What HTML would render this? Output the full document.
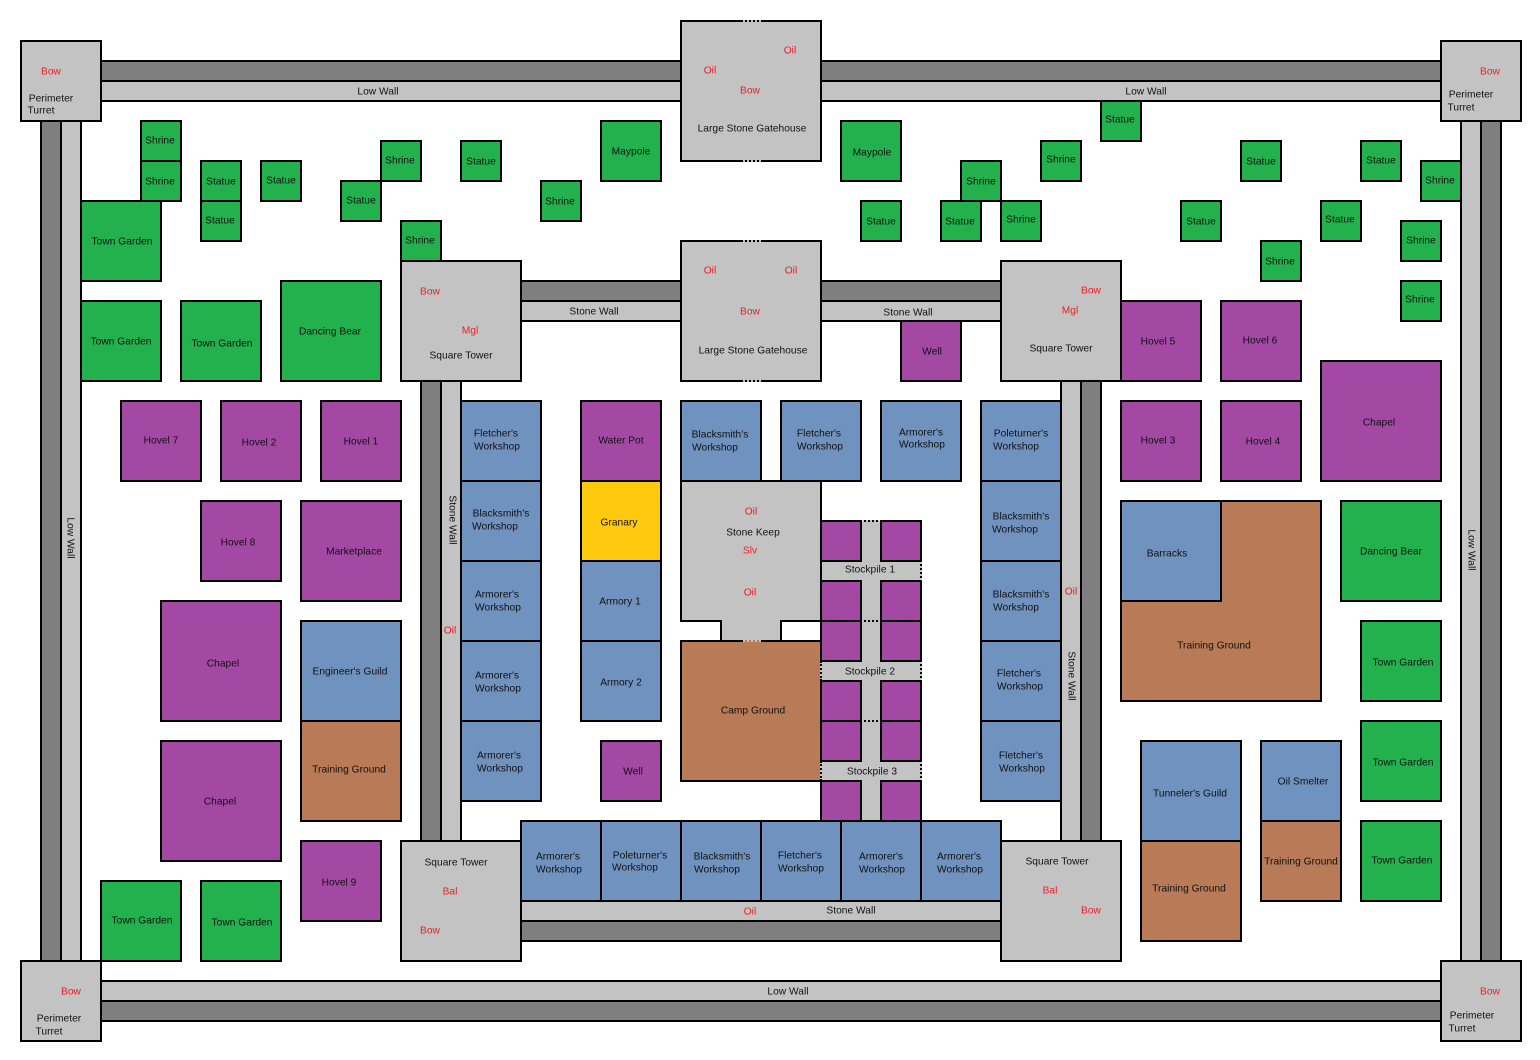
<!DOCTYPE html>
<html><head><meta charset="utf-8"><style>
html,body{margin:0;padding:0;background:#fff}
svg{display:block}
rect,polygon{stroke:#000;stroke-width:2}
.a{fill:#c3c3c3}.d{fill:#7f7f7f}.g{fill:#22b14c}.p{fill:#a349a4}.b{fill:#7092be}.n{fill:#b97a57}.y{fill:#ffc90e}
text{font-family:"Liberation Sans",sans-serif;font-size:10.2px;letter-spacing:.03px;text-anchor:middle;dominant-baseline:central;fill:#111}
.r{fill:#ed1c24}
</style></head><body>
<svg width="1540" height="1060" viewBox="0 0 1540 1060" xmlns="http://www.w3.org/2000/svg">
<g transform="translate(1 1)">
<!-- walls -->
<rect class="d" x="100" y="60" width="580" height="20"/><rect class="a" x="100" y="80" width="580" height="20"/>
<rect class="d" x="820" y="60" width="620" height="20"/><rect class="a" x="820" y="80" width="620" height="20"/>
<rect class="d" x="40" y="120" width="20" height="840"/><rect class="a" x="60" y="120" width="20" height="840"/>
<rect class="a" x="1460" y="120" width="20" height="840"/><rect class="d" x="1480" y="120" width="20" height="840"/>
<rect class="a" x="100" y="980" width="1340" height="20"/><rect class="d" x="100" y="1000" width="1340" height="20"/>
<rect class="d" x="520" y="280" width="160" height="20"/><rect class="a" x="520" y="300" width="160" height="20"/>
<rect class="d" x="820" y="280" width="180" height="20"/><rect class="a" x="820" y="300" width="180" height="20"/>
<rect class="d" x="420" y="380" width="20" height="460"/><rect class="a" x="440" y="380" width="20" height="460"/>
<rect class="a" x="1060" y="380" width="20" height="460"/><rect class="d" x="1080" y="380" width="20" height="460"/>
<rect class="a" x="520" y="900" width="480" height="20"/><rect class="d" x="520" y="920" width="480" height="20"/>
<!-- towers -->
<rect class="a" x="20" y="40" width="80" height="80"/><rect class="a" x="1440" y="40" width="80" height="80"/>
<rect class="a" x="20" y="960" width="80" height="80"/><rect class="a" x="1440" y="960" width="80" height="80"/>
<rect class="a" x="680" y="20" width="140" height="140"/><rect class="a" x="680" y="240" width="140" height="140"/>
<rect class="a" x="400" y="260" width="120" height="120"/><rect class="a" x="1000" y="260" width="120" height="120"/>
<rect class="a" x="400" y="840" width="120" height="120"/><rect class="a" x="1000" y="840" width="120" height="120"/>
<!-- green -->
<rect class="g" x="140" y="120" width="40" height="40"/><rect class="g" x="140" y="160" width="40" height="40"/>
<rect class="g" x="200" y="160" width="40" height="40"/><rect class="g" x="200" y="200" width="40" height="40"/>
<rect class="g" x="260" y="160" width="40" height="40"/><rect class="g" x="380" y="140" width="40" height="40"/>
<rect class="g" x="340" y="180" width="40" height="40"/><rect class="g" x="460" y="140" width="40" height="40"/>
<rect class="g" x="540" y="180" width="40" height="40"/><rect class="g" x="600" y="120" width="60" height="60"/>
<rect class="g" x="840" y="120" width="60" height="60"/><rect class="g" x="400" y="220" width="40" height="40"/>
<rect class="g" x="80" y="200" width="80" height="80"/><rect class="g" x="80" y="300" width="80" height="80"/>
<rect class="g" x="180" y="300" width="80" height="80"/><rect class="g" x="280" y="280" width="100" height="100"/>
<rect class="g" x="860" y="200" width="40" height="40"/><rect class="g" x="940" y="200" width="40" height="40"/>
<rect class="g" x="960" y="160" width="40" height="40"/><rect class="g" x="1000" y="200" width="40" height="40"/>
<rect class="g" x="1040" y="140" width="40" height="40"/><rect class="g" x="1100" y="100" width="40" height="40"/>
<rect class="g" x="1240" y="140" width="40" height="40"/><rect class="g" x="1360" y="140" width="40" height="40"/>
<rect class="g" x="1420" y="160" width="40" height="40"/><rect class="g" x="1180" y="200" width="40" height="40"/>
<rect class="g" x="1320" y="200" width="40" height="40"/><rect class="g" x="1400" y="220" width="40" height="40"/>
<rect class="g" x="1260" y="240" width="40" height="40"/><rect class="g" x="1400" y="280" width="40" height="40"/>
<rect class="g" x="1340" y="500" width="100" height="100"/><rect class="g" x="1360" y="620" width="80" height="80"/>
<rect class="g" x="1360" y="720" width="80" height="80"/><rect class="g" x="1360" y="820" width="80" height="80"/>
<rect class="g" x="100" y="880" width="80" height="80"/><rect class="g" x="200" y="880" width="80" height="80"/>
<!-- purple -->
<rect class="p" x="900" y="320" width="60" height="60"/><rect class="p" x="1120" y="300" width="80" height="80"/>
<rect class="p" x="1220" y="300" width="80" height="80"/><rect class="p" x="1120" y="400" width="80" height="80"/>
<rect class="p" x="1220" y="400" width="80" height="80"/><rect class="p" x="1320" y="360" width="120" height="120"/>
<rect class="p" x="120" y="400" width="80" height="80"/><rect class="p" x="220" y="400" width="80" height="80"/>
<rect class="p" x="320" y="400" width="80" height="80"/><rect class="p" x="200" y="500" width="80" height="80"/>
<rect class="p" x="300" y="500" width="100" height="100"/><rect class="p" x="160" y="600" width="120" height="120"/>
<rect class="p" x="160" y="740" width="120" height="120"/><rect class="p" x="300" y="840" width="80" height="80"/>
<rect class="p" x="580" y="400" width="80" height="80"/><rect class="p" x="600" y="740" width="60" height="60"/>
<!-- stockpile -->
<rect class="a" x="860" y="520" width="20" height="300" style="stroke:none"/>
<rect class="a" x="820" y="560" width="100" height="20" style="stroke:none"/>
<rect class="a" x="820" y="660" width="100" height="20" style="stroke:none"/>
<rect class="a" x="820" y="760" width="100" height="20" style="stroke:none"/>
<rect class="p" x="820" y="520" width="40" height="40"/><rect class="p" x="880" y="520" width="40" height="40"/>
<rect class="p" x="820" y="580" width="40" height="40"/><rect class="p" x="880" y="580" width="40" height="40"/>
<rect class="p" x="820" y="620" width="40" height="40"/><rect class="p" x="880" y="620" width="40" height="40"/>
<rect class="p" x="820" y="680" width="40" height="40"/><rect class="p" x="880" y="680" width="40" height="40"/>
<rect class="p" x="820" y="720" width="40" height="40"/><rect class="p" x="880" y="720" width="40" height="40"/>
<rect class="p" x="820" y="780" width="40" height="40"/><rect class="p" x="880" y="780" width="40" height="40"/>
<!-- blue -->
<rect class="b" x="460" y="400" width="80" height="80"/><rect class="b" x="460" y="480" width="80" height="80"/>
<rect class="b" x="460" y="560" width="80" height="80"/><rect class="b" x="460" y="640" width="80" height="80"/>
<rect class="b" x="460" y="720" width="80" height="80"/>
<rect class="b" x="680" y="400" width="80" height="80"/><rect class="b" x="780" y="400" width="80" height="80"/>
<rect class="b" x="880" y="400" width="80" height="80"/>
<rect class="b" x="980" y="400" width="80" height="80"/><rect class="b" x="980" y="480" width="80" height="80"/>
<rect class="b" x="980" y="560" width="80" height="80"/><rect class="b" x="980" y="640" width="80" height="80"/>
<rect class="b" x="980" y="720" width="80" height="80"/>
<rect class="b" x="580" y="560" width="80" height="80"/><rect class="b" x="580" y="640" width="80" height="80"/>
<rect class="b" x="300" y="620" width="100" height="100"/>
<rect class="b" x="520" y="820" width="80" height="80"/><rect class="b" x="600" y="820" width="80" height="80"/>
<rect class="b" x="680" y="820" width="80" height="80"/><rect class="b" x="760" y="820" width="80" height="80"/>
<rect class="b" x="840" y="820" width="80" height="80"/><rect class="b" x="920" y="820" width="80" height="80"/>
<rect class="b" x="1140" y="740" width="100" height="100"/><rect class="b" x="1260" y="740" width="80" height="80"/>
<rect class="n" x="300" y="720" width="100" height="100"/>
<rect class="n" x="1140" y="840" width="100" height="100"/><rect class="n" x="1260" y="820" width="80" height="80"/>
<polygon class="n" points="1220,500 1320,500 1320,700 1120,700 1120,600 1220,600"/>
<rect class="b" x="1120" y="500" width="100" height="100"/>
<rect class="y" x="580" y="480" width="80" height="80"/>
<polygon class="a" points="680,480 820,480 820,620 780,620 780,640 720,640 720,620 680,620"/>
<rect class="n" x="680" y="640" width="140" height="140"/>
<!-- gate and stockpile openings -->
<g fill="none" stroke-width="2">
<path d="M742 20H760M742 160H760M742 240H760M742 380H760" stroke="#c3c3c3"/>
<path d="M744 20H758M744 160H758M744 240H758M744 380H758" stroke="#000" stroke-dasharray="2 2"/>
<path d="M742 640H760" stroke="#c3c3c3"/>
<path d="M744 640H758" stroke="#b97a57" stroke-dasharray="2 2"/>
<path d="M862 520H878M862 620H878M862 720H878" stroke="#c3c3c3"/>
<path d="M863 520H877M863 620H877M863 720H877" stroke="#000" stroke-dasharray="2 2"/>
<path d="M920 562V578M920 662V678M920 762V778M820 662V678M820 762V778" stroke="#c3c3c3"/>
<path d="M920 563V577M920 663V677M920 763V777M820 663V677M820 763V777" stroke="#000" stroke-dasharray="2 2"/>
</g>
</g>
<!-- labels -->
<g transform="translate(0 1)">
<text class="r" x="51" y="71">Bow</text><text x="51" y="98">Perimeter</text><text x="41" y="110">Turret</text>
<text class="r" x="1490" y="71">Bow</text><text x="1471" y="94">Perimeter</text><text x="1461" y="107">Turret</text>
<text class="r" x="71" y="991">Bow</text><text x="59" y="1018">Perimeter</text><text x="49" y="1031">Turret</text>
<text class="r" x="1490" y="991">Bow</text><text x="1472" y="1015">Perimeter</text><text x="1462" y="1028">Turret</text>
<text x="378" y="91">Low Wall</text><text x="1146" y="91">Low Wall</text><text x="788" y="991">Low Wall</text>
<text transform="translate(70 537) rotate(90)">Low Wall</text><text transform="translate(1471 549) rotate(90)">Low Wall</text>
<text transform="translate(452 519) rotate(90)">Stone Wall</text><text transform="translate(1071 675) rotate(90)">Stone Wall</text>
<text x="594" y="311">Stone Wall</text><text x="908" y="312">Stone Wall</text><text x="851" y="910">Stone Wall</text>
<text class="r" x="790" y="50">Oil</text><text class="r" x="710" y="70">Oil</text><text class="r" x="750" y="90">Bow</text><text x="752" y="128">Large Stone Gatehouse</text>
<text class="r" x="710" y="270">Oil</text><text class="r" x="791" y="270">Oil</text><text class="r" x="750" y="311">Bow</text><text x="753" y="350">Large Stone Gatehouse</text>
<text class="r" x="430" y="291">Bow</text><text class="r" x="470" y="330">Mgl</text><text x="461" y="355">Square Tower</text>
<text class="r" x="1091" y="290">Bow</text><text class="r" x="1070" y="310">Mgl</text><text x="1061" y="348">Square Tower</text>
<text x="456" y="862">Square Tower</text><text class="r" x="450" y="891">Bal</text><text class="r" x="430" y="930">Bow</text>
<text x="1057" y="861">Square Tower</text><text class="r" x="1050" y="890">Bal</text><text class="r" x="1091" y="910">Bow</text>
<text class="r" x="450" y="630">Oil</text><text class="r" x="1071" y="591">Oil</text><text class="r" x="750" y="911">Oil</text>
<text class="r" x="751" y="511">Oil</text><text x="753" y="532">Stone Keep</text><text class="r" x="750" y="550">Slv</text><text class="r" x="750" y="592">Oil</text>
<text x="160" y="140">Shrine</text><text x="160" y="181">Shrine</text><text x="221" y="181">Statue</text><text x="220" y="220">Statue</text>
<text x="281" y="180">Statue</text><text x="400" y="160">Shrine</text><text x="361" y="200">Statue</text><text x="481" y="161">Statue</text>
<text x="560" y="201">Shrine</text><text x="631" y="151">Maypole</text><text x="872" y="152">Maypole</text><text x="420" y="240">Shrine</text>
<text x="122" y="241">Town Garden</text><text x="121" y="341">Town Garden</text><text x="222" y="343">Town Garden</text><text x="330" y="331">Dancing Bear</text>
<text x="881" y="221">Statue</text><text x="960" y="221">Statue</text><text x="981" y="181">Shrine</text><text x="1021" y="219">Shrine</text>
<text x="1061" y="159">Shrine</text><text x="1120" y="119">Statue</text><text x="1261" y="161">Statue</text><text x="1381" y="160">Statue</text>
<text x="1440" y="180">Shrine</text><text x="1201" y="221">Statue</text><text x="1340" y="219">Statue</text><text x="1421" y="240">Shrine</text>
<text x="1280" y="261">Shrine</text><text x="1420" y="299">Shrine</text>
<text x="1391" y="551">Dancing Bear</text><text x="1403" y="662">Town Garden</text><text x="1403" y="762">Town Garden</text><text x="1402" y="860">Town Garden</text>
<text x="142" y="920">Town Garden</text><text x="242" y="922">Town Garden</text>
<text x="932" y="351">Well</text><text x="1158" y="341">Hovel 5</text><text x="1260" y="340">Hovel 6</text><text x="1158" y="440">Hovel 3</text><text x="1263" y="441">Hovel 4</text><text x="1379" y="422">Chapel</text>
<text x="161" y="440">Hovel 7</text><text x="259" y="442">Hovel 2</text><text x="361" y="441">Hovel 1</text><text x="238" y="542">Hovel 8</text><text x="354" y="551">Marketplace</text>
<text x="223" y="663">Chapel</text><text x="220" y="801">Chapel</text><text x="339" y="882">Hovel 9</text><text x="621" y="440">Water Pot</text><text x="633" y="771">Well</text>
<text x="619" y="522">Granary</text><text x="620" y="601">Armory 1</text><text x="621" y="682">Armory 2</text>
<text x="496" y="433">Fletcher's</text><text x="497" y="446">Workshop</text>
<text x="501" y="513">Blacksmith's</text><text x="495" y="526">Workshop</text>
<text x="497" y="594">Armorer's</text><text x="498" y="607">Workshop</text>
<text x="497" y="675">Armorer's</text><text x="498" y="688">Workshop</text>
<text x="499" y="755">Armorer's</text><text x="500" y="768">Workshop</text>
<text x="720" y="434">Blacksmith's</text><text x="715" y="447">Workshop</text>
<text x="819" y="433">Fletcher's</text><text x="820" y="446">Workshop</text>
<text x="921" y="432">Armorer's</text><text x="922" y="444">Workshop</text>
<text x="1021" y="433">Poleturner's</text><text x="1016" y="446">Workshop</text>
<text x="1021" y="516">Blacksmith's</text><text x="1015" y="529">Workshop</text>
<text x="1021" y="594">Blacksmith's</text><text x="1016" y="607">Workshop</text>
<text x="1019" y="673">Fletcher's</text><text x="1020" y="686">Workshop</text>
<text x="1021" y="755">Fletcher's</text><text x="1022" y="768">Workshop</text>
<text x="350" y="671">Engineer's Guild</text><text x="349" y="769">Training Ground</text>
<text x="558" y="856">Armorer's</text><text x="559" y="869">Workshop</text>
<text x="640" y="855">Poleturner's</text><text x="635" y="867">Workshop</text>
<text x="722" y="856">Blacksmith's</text><text x="717" y="869">Workshop</text>
<text x="800" y="855">Fletcher's</text><text x="801" y="868">Workshop</text>
<text x="881" y="856">Armorer's</text><text x="882" y="869">Workshop</text>
<text x="959" y="856">Armorer's</text><text x="960" y="869">Workshop</text>
<text x="1190" y="793">Tunneler's Guild</text><text x="1303" y="781">Oil Smelter</text>
<text x="1189" y="888">Training Ground</text><text x="1301" y="861">Training Ground</text>
<text x="1167" y="553">Barracks</text><text x="1214" y="645">Training Ground</text><text x="753" y="710">Camp Ground</text>
<text x="870" y="569">Stockpile 1</text><text x="870" y="671">Stockpile 2</text><text x="872" y="771">Stockpile 3</text>
</g>
</svg>
</body></html>
